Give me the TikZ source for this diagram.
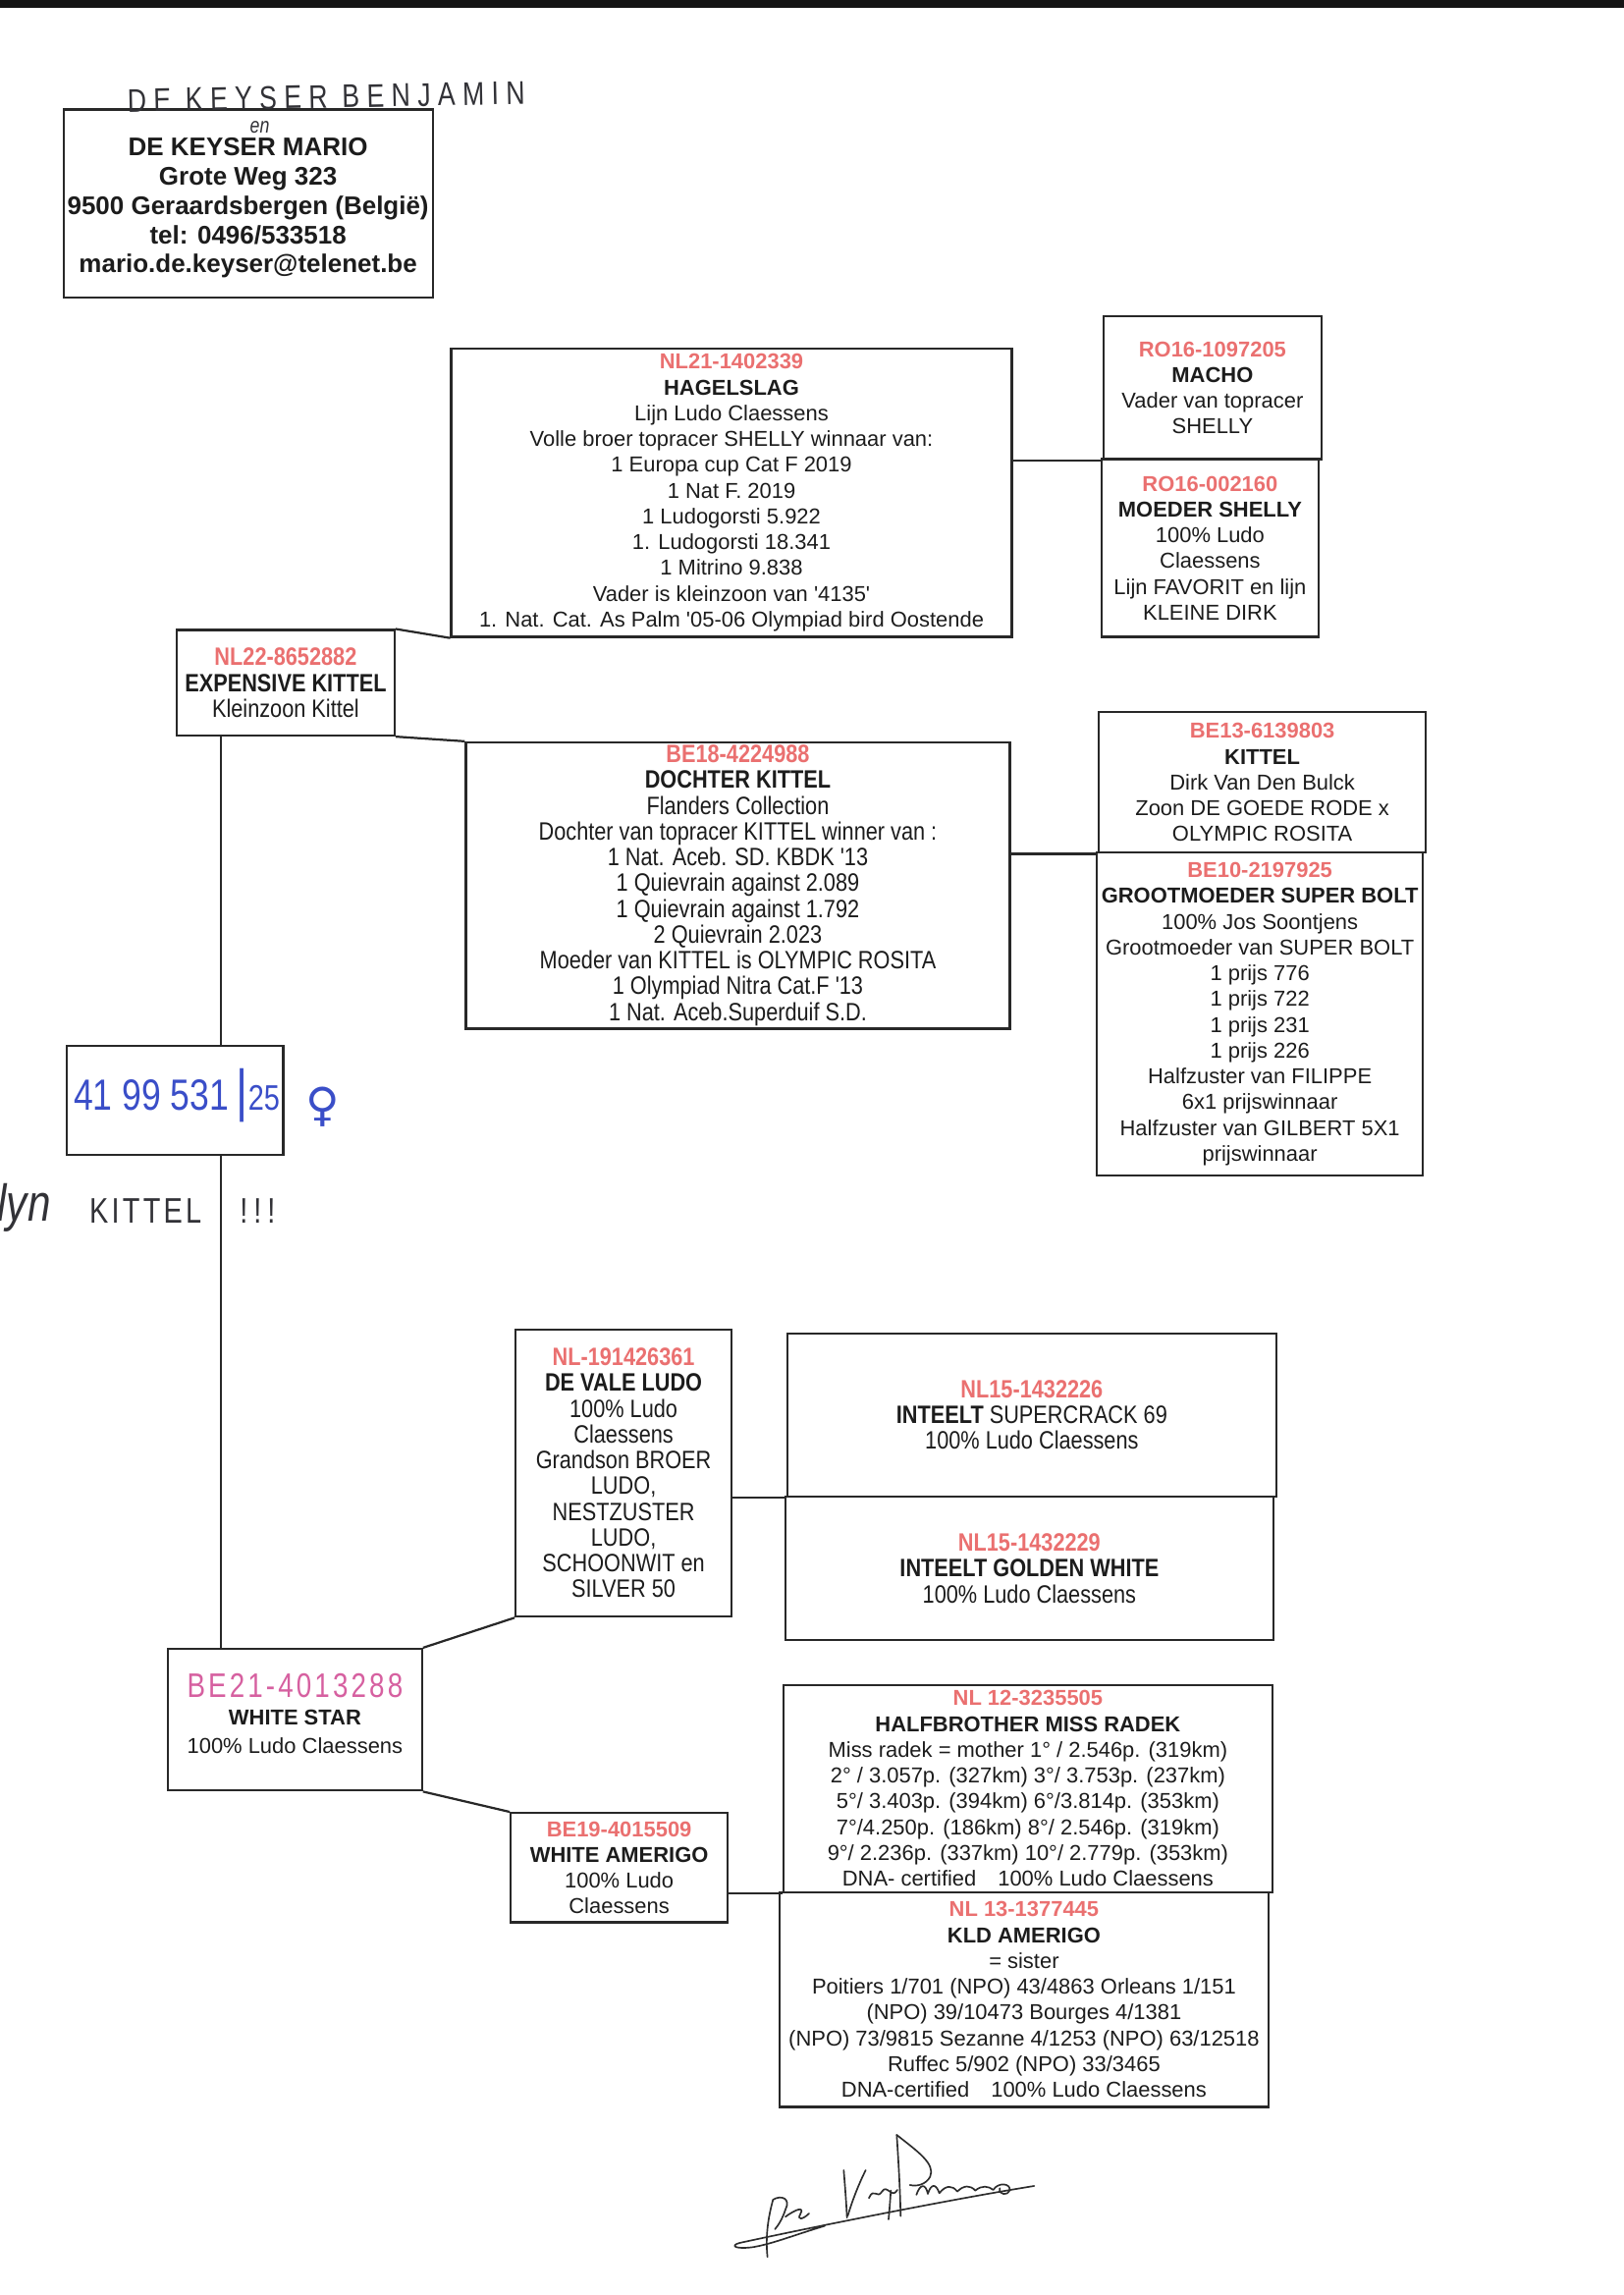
\documentclass[tikz,border=0pt]{standalone}
\usepackage{fontspec}
\newfontfamily\arial{Liberation Sans}
\newfontfamily\arialn[FakeStretch=0.85]{Liberation Sans}
\newfontfamily\hand[FakeStretch=0.8]{Liberation Sans}
\newfontfamily\handsp[FakeStretch=0.8,LetterSpace=22]{Liberation Sans}
\newfontfamily\handk[FakeStretch=0.8,LetterSpace=9]{Liberation Sans}
\newfontfamily\symf{DejaVu Sans}
\definecolor{textc}{RGB}{28,28,28}
\definecolor{linec}{RGB}{40,40,40}
\definecolor{idred}{RGB}{234,112,112}
\definecolor{pinkc}{RGB}{214,96,160}
\definecolor{bluec}{RGB}{58,78,200}
\definecolor{handc}{RGB}{50,50,55}
\definecolor{sigc}{RGB}{45,45,45}
\definecolor{topc}{RGB}{20,20,20}
\newcommand\idc[1]{{\bfseries\color{idred}#1}}
\tikzset{
  bx/.style 2 args={draw=linec, line width=0.8pt, inner sep=0pt,
    minimum width=#1*0.3581pt, minimum height=#2*0.3581pt,
    align=center, text=textc},
  reg/.style={font=\arial\fontsize{7.9}{9.45}\selectfont},
  nar/.style={font=\arialn\fontsize{9.2}{9.45}\selectfont},
  conn/.style={draw=linec, line width=0.8pt},
}
\begin{document}
\begin{tikzpicture}[x=0.3581pt,y=-0.3581pt]
\useasboundingbox (0,0) rectangle (1662.8,2349.5);
\fill[topc] (0,0) rectangle (1662.8,8);

% owner
\node[bx={378}{193}] (owner) at (254,208.5) {};
\node[font=\arial\bfseries\fontsize{9.35}{10.75}\selectfont, align=center, text=textc, inner sep=0pt] (ownertxt) at (254,213)
 {DE KEYSER MARIO\\ Grote Weg 323\\ 9500 Geraardsbergen (België)\\ tel: 0496/533518\\ mario.de.keyser@telenet.be};
\node[font=\handsp\fontsize{12}{12}\selectfont, text=handc, rotate=1.2, inner sep=0pt] (benj) at (334,99) {DE KEYSER BENJAMIN};
\node[font=\hand\itshape\fontsize{8}{8}\selectfont, text=handc, inner sep=0pt] (en) at (266,130) {en};

% generation 3 / 4 top
\node[bx={574}{295}, reg] (hagel) at (749,504.5)
 {\idc{NL21-1402339}\\ {\bfseries HAGELSLAG}\\ Lijn Ludo Claessens\\ Volle broer topracer SHELLY winnaar van:\\ 1 Europa cup Cat F 2019\\ 1 Nat F. 2019\\ 1 Ludogorsti 5.922\\ 1. Ludogorsti 18.341\\ 1 Mitrino 9.838\\ Vader is kleinzoon van '4135'\\ 1. Nat. Cat. As Palm '05-06 Olympiad bird Oostende};
\node[bx={223}{146}, reg] (macho) at (1241.5,397)
 {\idc{RO16-1097205}\\ {\bfseries MACHO}\\ Vader van topracer\\ SHELLY};
\node[bx={222}{182}, reg] (moeder) at (1239,561)
 {\idc{RO16-002160}\\ {\bfseries MOEDER SHELLY}\\ 100\% Ludo\\ Claessens\\ Lijn FAVORIT en lijn\\ KLEINE DIRK};
\node[bx={223}{108}, nar] (expensive) at (292.5,699)
 {\idc{NL22-8652882}\\ {\bfseries EXPENSIVE KITTEL}\\ Kleinzoon Kittel};
\node[bx={557}{293}, nar] (dochter) at (755.5,906.5)
 {\idc{BE18-4224988}\\ {\bfseries DOCHTER KITTEL}\\ Flanders Collection\\ Dochter van topracer KITTEL winner van :\\ 1 Nat. Aceb. SD. KBDK '13\\ 1 Quievrain against 2.089\\ 1 Quievrain against 1.792\\ 2 Quievrain 2.023\\ Moeder van KITTEL is OLYMPIC ROSITA\\ 1 Olympiad Nitra Cat.F '13\\ 1 Nat. Aceb.Superduif S.D.};
\node[bx={335}{144}, reg] (kittel) at (1292.5,801)
 {\idc{BE13-6139803}\\ {\bfseries KITTEL}\\ Dirk Van Den Bulck\\ Zoon DE GOEDE RODE x\\ OLYMPIC ROSITA};
\node[bx={334}{330}, reg] (groot) at (1290,1038)
 {\idc{BE10-2197925}\\ {\bfseries GROOTMOEDER SUPER BOLT}\\ 100\% Jos Soontjens\\ Grootmoeder van SUPER BOLT\\ 1 prijs 776\\ 1 prijs 722\\ 1 prijs 231\\ 1 prijs 226\\ Halfzuster van FILIPPE\\ 6x1 prijswinnaar\\ Halfzuster van GILBERT 5X1\\ prijswinnaar};

% central bird
\node[bx={222}{111}] (cbox) at (179,1126.5) {};
\node[font=\hand\fontsize{16}{16}\selectfont, text=bluec, inner sep=0pt] (cnum) at (181,1121)
 {41 99 531\,{\fontsize{21}{21}\selectfont |}{\fontsize{13}{13}\selectfont 25}};
\node[font=\symf\fontsize{17}{17}\selectfont, text=bluec, inner sep=0pt] (fem) at (331,1133) {♀};
\node[font=\hand\itshape\fontsize{19}{19}\selectfont, text=handc, anchor=base west, inner sep=0pt] (lyn) at (-3,1250) {lyn};
\node[font=\handk\fontsize{13}{13}\selectfont, text=handc, anchor=base west, inner sep=0pt] (kit) at (91,1252) {KITTEL};
\node[font=\hand\fontsize{13}{13}\selectfont, text=handc, anchor=base west, inner sep=0pt] (excl) at (245,1252) {!\,!\,!};

% lower half
\node[bx={221}{294}, nar] (devale) at (638.5,1508)
 {\idc{NL-191426361}\\ {\bfseries DE VALE LUDO}\\ 100\% Ludo\\ Claessens\\ Grandson BROER\\ LUDO,\\ NESTZUSTER\\ LUDO,\\ SCHOONWIT en\\ SILVER 50};
\node[bx={501}{167}, nar] (inteelt1) at (1056.5,1448.5)
 {\idc{NL15-1432226}\\ {\bfseries INTEELT} SUPERCRACK 69\\ 100\% Ludo Claessens};
\node[bx={500}{147}, nar] (inteelt2) at (1054,1605.5)
 {\idc{NL15-1432229}\\ {\bfseries INTEELT GOLDEN WHITE}\\ 100\% Ludo Claessens};
\node[bx={260}{145}] (whitestar) at (302,1760.5) {};
\node[font=\arial\fontsize{7.9}{10.3}\selectfont, align=center, text=textc, inner sep=0pt] (whitestartxt) at (302,1754)
 {{\handk\fontsize{12.5}{12.5}\selectfont\color{pinkc}BE21-4013288}\\ {\bfseries WHITE STAR}\\ 100\% Ludo Claessens};
\node[bx={222}{112}, reg] (whiteamerigo) at (634,1912)
 {\idc{BE19-4015509}\\ {\bfseries WHITE AMERIGO}\\ 100\% Ludo\\ Claessens};
\node[bx={501}{212}, reg] (halfbrother) at (1052.5,1831)
 {\idc{NL 12-3235505}\\ {\bfseries HALFBROTHER MISS RADEK}\\ Miss radek = mother 1° / 2.546p. (319km)\\ 2° / 3.057p. (327km) 3°/ 3.753p. (237km)\\ 5°/ 3.403p. (394km) 6°/3.814p. (353km)\\ 7°/4.250p. (186km) 8°/ 2.546p. (319km)\\ 9°/ 2.236p. (337km) 10°/ 2.779p. (353km)\\ DNA- certified\quad 100\% Ludo Claessens};
\node[bx={501}{220}, reg] (kld) at (1048.5,2047)
 {\idc{NL 13-1377445}\\ {\bfseries KLD AMERIGO}\\ = sister\\ Poitiers 1/701 (NPO) 43/4863 Orleans 1/151\\ (NPO) 39/10473 Bourges 4/1381\\ (NPO) 73/9815 Sezanne 4/1253 (NPO) 63/12518\\ Ruffec 5/902 (NPO) 33/3465\\ DNA-certified\quad 100\% Ludo Claessens};

% connectors
\coordinate (vx) at (226,0);
\draw[conn] (hagel.east |- macho.south) -- (macho.south west);
\draw[conn] (expensive.north east) -- (hagel.south west);
\draw[conn] (expensive.south east) -- (dochter.north west);
\draw[conn] (dochter.east |- kittel.south) -- (kittel.south west);
\draw[conn] (expensive.south -| vx) -- (cbox.north -| vx);
\draw[conn] (cbox.south -| vx) -- (whitestar.north -| vx);
\draw[conn] (whitestar.north east) -- (devale.south west);
\draw[conn] (whitestar.south east) -- (whiteamerigo.north west);
\draw[conn] (devale.east |- inteelt1.south) -- (inteelt1.south west);
\draw[conn] (whiteamerigo.east |- halfbrother.south) -- (halfbrother.south west);

% signature
\begin{scope}[shift={(252pt,-777.6pt)}, x=0.12pt, y=-0.12pt, draw=sigc, line width=0.6pt, line cap=round, line join=round]
\draw (1060,198) .. controls (800,240) and (400,320) .. (160,372) .. controls (130,380) and (145,392) .. (200,385) .. controls (260,375) and (320,350) .. (420,320);
\draw (245,415) .. controls (238,350) and (248,290) .. (262,240) .. controls (285,225) and (318,235) .. (300,270) .. controls (290,300) and (278,318) .. (268,330);
\draw (300,292) .. controls (330,270) and (360,258) .. (345,285) .. controls (335,302) and (352,302) .. (372,282);
\draw (478,150) .. controls (482,200) and (486,250) .. (488,295);
\draw (545,150) .. controls (525,190) and (505,240) .. (490,290);
\draw (555,235) .. controls (570,200) and (580,240) .. (595,215) .. controls (610,190) and (625,240) .. (642,210);
\draw (622,212) .. controls (620,240) and (618,270) .. (615,300);
\draw (640,42) .. controls (645,120) and (650,200) .. (652,290);
\draw (640,42) .. controls (700,90) and (760,130) .. (742,170) .. controls (728,195) and (700,200) .. (680,195);
\draw (700,225) .. controls (712,190) and (728,190) .. (735,222) .. controls (745,190) and (760,190) .. (770,220) .. controls (790,195) and (810,195) .. (825,215) .. controls (845,195) and (865,195) .. (880,212) .. controls (900,195) and (920,198) .. (935,210) .. controls (950,185) and (990,190) .. (985,212) .. controls (980,228) and (950,226) .. (955,205);
\end{scope}
\end{tikzpicture}
\end{document}
